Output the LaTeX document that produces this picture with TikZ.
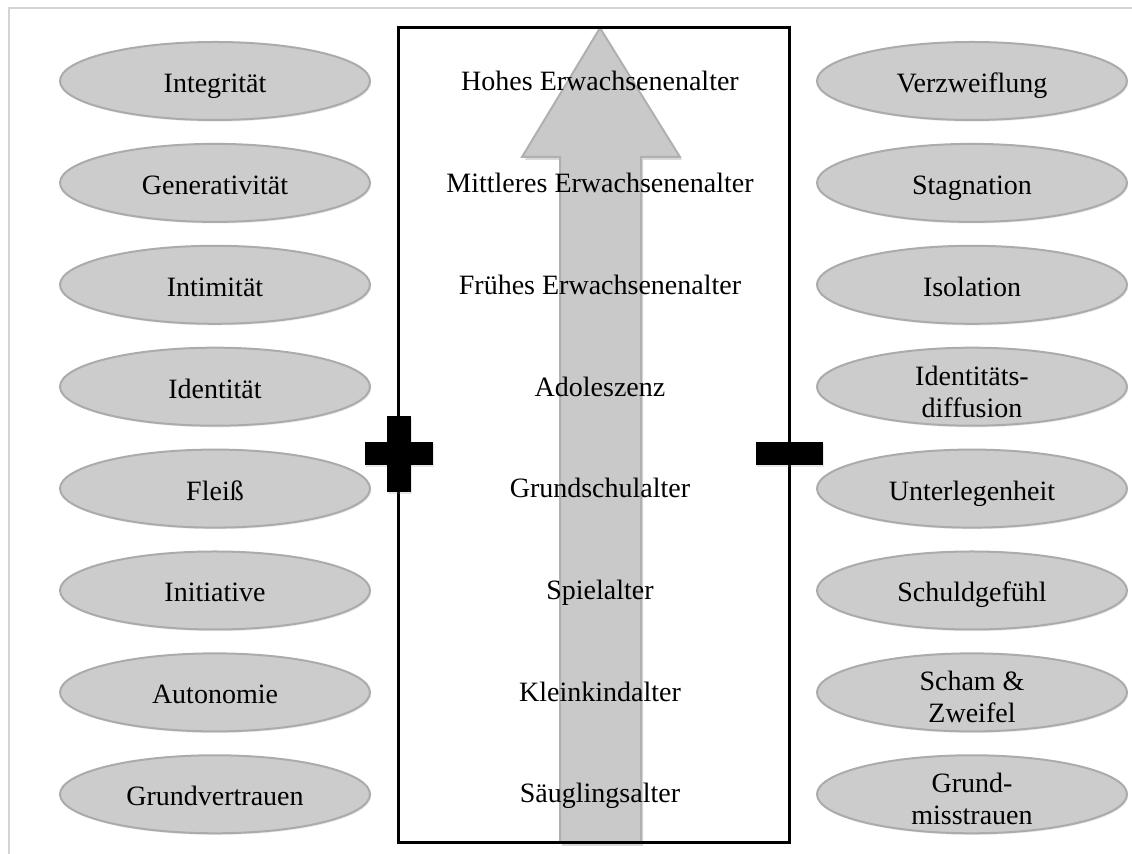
\documentclass[tikz,border=0pt]{standalone}
\usepackage{fontspec}
\setmainfont{Liberation Serif}
\usetikzlibrary{shapes.geometric,shadows}
\definecolor{ellfill}{HTML}{CCCCCC}
\definecolor{elldraw}{HTML}{ABABAB}
\definecolor{arrfill}{HTML}{C9C9C9}
\definecolor{arrdraw}{HTML}{B0B0B0}
\definecolor{framegray}{HTML}{D4D4D4}
\newcommand{\lstrut}{\rule[-3.5pt]{0pt}{18.5pt}}
\newcommand{\ellfont}{\fontsize{14pt}{16pt}\selectfont\lineskiplimit=-100pt\relax}
\tikzset{
  stage/.style={ellipse, fill=ellfill, draw=elldraw, line width=1pt,
    minimum width=155pt, minimum height=39pt, inner sep=0pt, align=center,
    font=\ellfont,
    execute at begin node=\lstrut, execute at end node=\lstrut,
    drop shadow={opacity=0.18, shadow xshift=0.6pt, shadow yshift=-0.8pt}},
  age/.style={anchor=base, font=\fontsize{14pt}{16pt}\selectfont},
  bar/.style={fill=black, draw=none,
    drop shadow={opacity=0.2, shadow xshift=0.6pt, shadow yshift=-0.8pt}}
}
\begin{document}
\begin{tikzpicture}[x=0.5pt,y=-0.5pt]
\useasboundingbox (0,0) rectangle (1132,854);
% outer frame
\draw[framegray, line width=1pt] (9,854) -- (9,8) -- (1132,8);
% arrow
\fill[black, opacity=0.15] (562,846) -- (562,160) -- (525,160) -- (602,31) -- (682,160) -- (643,160) -- (643,846) -- cycle;
\draw[fill=arrfill, draw=arrdraw, line width=1pt]
  (560,843) -- (560,157) -- (522,157) -- (600,28) -- (680,157) -- (641,157) -- (641,843) -- cycle;
% main box
\node[draw=black, line width=1.5pt, minimum width=195.5pt, minimum height=407.5pt, inner sep=0pt] (box) at (593.5,435.5) {};
% plus and minus
\path[bar] (387,416) rectangle (411,492);
\path[bar] (365,442) rectangle (433,465);
\fill (387,416) rectangle (411,492);
\path[bar] (756,442) rectangle (823,465);
% ages
\foreach \t [count=\i from 0] in {Hohes Erwachsenenalter,Mittleres Erwachsenenalter,Frühes Erwachsenenalter,Adoleszenz,Grundschulalter,Spielalter,Kleinkindalter,Säuglingsalter}{
  \node[age] (m\i) at (600,{91+101.7*\i}) {\t};
}
% left ellipses
\foreach \t [count=\i from 0] in {Integrität,Generativität,Intimität,Identität,Fleiß,Initiative,Autonomie,Grundvertrauen}{
  \node[stage] (l\i) at (215,{81+101.9*\i}) {\t};
}
% right ellipses
\foreach \t [count=\i from 0] in {Verzweiflung,Stagnation,Isolation,,Unterlegenheit,Schuldgefühl}{
  \ifnum\i=3\else
  \node[stage] (r\i) at (972,{81+101.9*\i}) {\t};
  \fi
}
\node[stage] (r3) at (972,{81+101.9*3}) {};
\node[font=\ellfont, align=center] (t3) at ([yshift=-2.5pt]r3.center) {Identitäts-\\diffusion};
\node[stage] (r6) at (972,{81+101.9*6}) {};
\node[font=\ellfont, align=center] (t6) at ([yshift=-2.5pt]r6.center) {Scham \&\\Zweifel};
\node[stage] (r7) at (972,{81+101.9*7}) {};
\node[font=\ellfont, align=center] (t7) at ([yshift=-2.5pt]r7.center) {Grund-\\misstrauen};
\end{tikzpicture}
\end{document}
